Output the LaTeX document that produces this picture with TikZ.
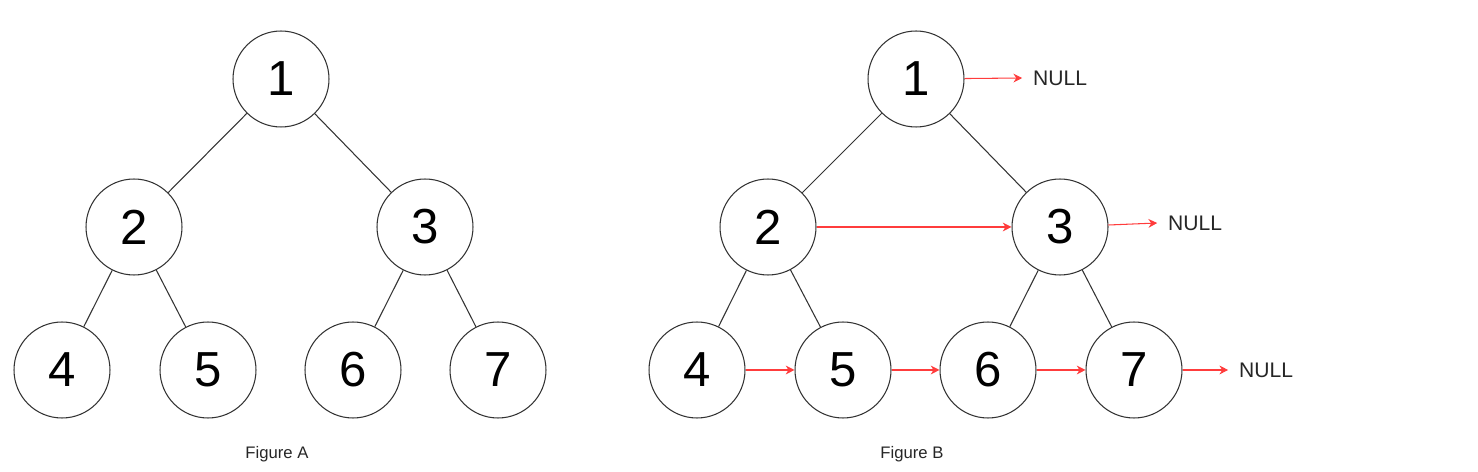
\documentclass[tikz,border=0pt]{standalone}
\usepackage{fontspec}
\setmainfont{Liberation Sans}
\usetikzlibrary{arrows.meta, positioning}

\tikzset{
  tnode/.style={circle, draw=black!80, line width=0.6pt, minimum size=1.92cm, inner sep=0pt, font=\fontsize{28}{28}\selectfont},
  nextptr/.style={draw={rgb,255:red,255;green,60;blue,60}, line width=0.6pt, -{Stealth[length=5pt,width=5pt]}},
  nulltxt/.style={font=\fontsize{12}{12}\selectfont, text=black!85, inner sep=1pt},
  capt/.style={font=\fontsize{9.5}{9.5}\selectfont, text=black!85}
}

\begin{document}
\begin{tikzpicture}[x=0.02cm, y=-0.02cm]
\useasboundingbox (0,0) rectangle (1478,472);

% Figure A
\node[tnode](a1) at (281,79) {1};
\node[tnode](a2) at (134,227) {2};
\node[tnode](a3) at (425,227) {3};
\node[tnode](a4) at (62,370) {4};
\node[tnode](a5) at (208,370) {5};
\node[tnode](a6) at (353,370) {6};
\node[tnode](a7) at (498,370) {7};
\node[capt](capA) at (277,454) {Figure A};

\draw[black!80, line width=0.6pt]
	(a1) -- (a2)
	(a1) -- (a3)
	(a2) -- (a4)
	(a2) -- (a5)
	(a3) -- (a6)
	(a3) -- (a7);

% Figure B
\node[tnode](b1) at (916,79) {1};
\node[tnode](b2) at (768,227) {2};
\node[tnode](b3) at (1060,227) {3};
\node[tnode](b4) at (697,370) {4};
\node[tnode](b5) at (843,370) {5};
\node[tnode](b6) at (988,370) {6};
\node[tnode](b7) at (1134,370) {7};
\node[capt](capB) at (912,454) {Figure B};

\node[nulltxt, anchor=west](null1) at (1031,78) {NULL};
\node[nulltxt, anchor=west](null3) at (1166,223) {NULL};
\node[nulltxt, anchor=west](null7) at (1237,370) {NULL};

\draw[black!80, line width=0.6pt]
	(b1) -- (b2)
	(b1) -- (b3)
	(b2) -- (b4)
	(b2) -- (b5)
	(b3) -- (b6)
	(b3) -- (b7);

\draw[nextptr] (b1) -- ([xshift=-5pt]null1.west);
\draw[nextptr] (b2) -- (b3);
\draw[nextptr] (b3) -- ([xshift=-5pt]null3.west);
\draw[nextptr] (b4) -- (b5);
\draw[nextptr] (b5) -- (b6);
\draw[nextptr] (b6) -- (b7);
\draw[nextptr] (b7) -- ([xshift=-5pt]null7.west);

\end{tikzpicture}
\end{document}
